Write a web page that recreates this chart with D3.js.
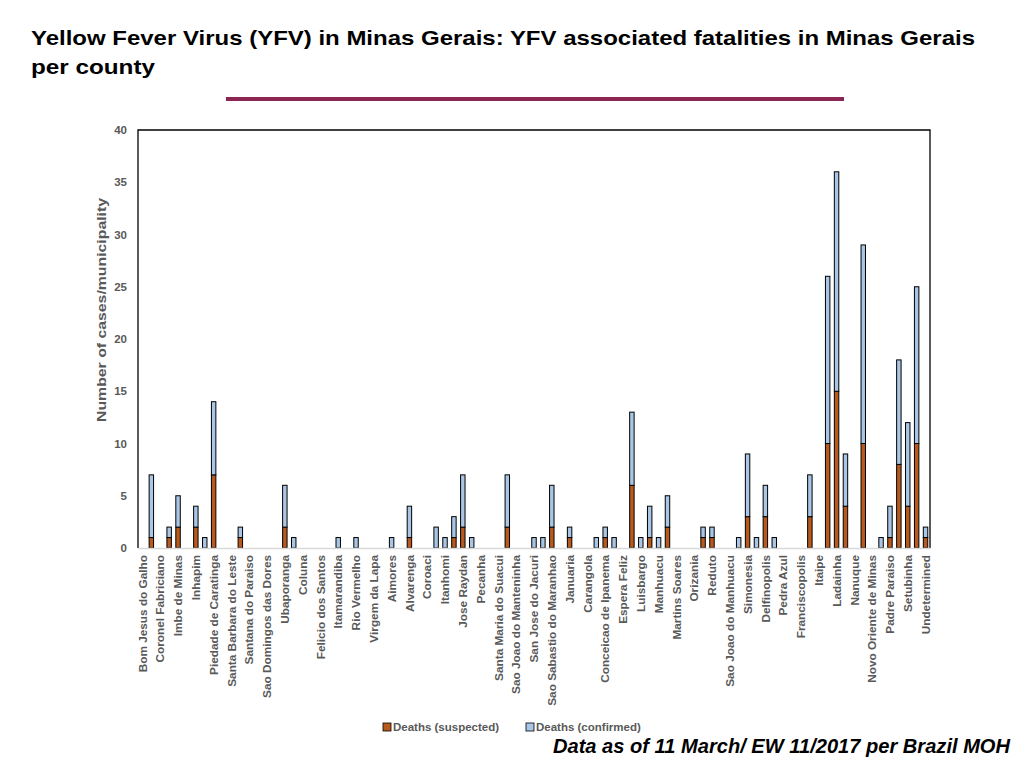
<!DOCTYPE html>
<html>
<head>
<meta http-equiv="Content-Type" content="text/html;charset=utf-8"/>
<title>YFV fatalities in Minas Gerais</title>
<script src="https://d3js.org/d3.v7.min.js"></script>
<style type="text/css">
	body { margin: 0; background: #fff; }
	svg { display: block; font-family: "Liberation Sans", Arial, sans-serif; }
	.title { font-size: 21px; font-weight: bold; fill: #000; }
	.tick text { font-weight: bold; fill: #595959; }
	.legend text { font-size: 11.5px; font-weight: bold; fill: #595959; }
</style>
</head>
<body>
<svg width="1024" height="768"></svg>

<script type="text/javascript">
// municipalities, one per bar; the chart only labels every other one
const categories = [
	"Bom Jesus do Galho", "", "Coronel  Fabriciano", "", "Imbe de Minas", "", "Inhapim", "",
	"Piedade de Caratinga", "", "Santa Barbara do Leste", "", "Santana do Paraiso", "",
	"Sao Domingos das Dores", "", "Ubaporanga", "", "Coluna", "", "Felicio dos Santos", "",
	"Itamarandiba", "", "Rio Vermelho", "", "Virgem da Lapa", "", "Aimores", "", "Alvarenga", "",
	"Coroaci", "", "Itanhomi", "", "Jose Raydan", "", "Pecanha", "", "Santa Maria do Suacui", "",
	"Sao Joao do Manteninha", "", "San Jose do Jacuri", "", "Sao Sabastio do Maranhao", "",
	"Januaria", "", "Carangola", "", "Conceicao de Ipanema", "", "Espera Feliz", "", "Luisbargo", "",
	"Manhuacu", "", "Martins Soares", "", "Orizania", "", "Reduto", "", "Sao Joao do Manhuacu", "",
	"Simonesia", "", "Delfinopolis", "", "Pedra Azul", "", "Franciscopolis", "", "Itaipe", "",
	"Ladainha", "", "Nanuque", "", "Novo Oriente de Minas", "", "Padre Paraiso", "", "Setubinha", "",
	"Undetermined"
];

const suspected = [
	0, 1, 0, 1, 2, 0, 2, 0, 7, 0,
	0, 1, 0, 0, 0, 0, 2, 0, 0, 0,
	0, 0, 0, 0, 0, 0, 0, 0, 0, 0,
	1, 0, 0, 0, 0, 1, 2, 0, 0, 0,
	0, 2, 0, 0, 0, 0, 2, 0, 1, 0,
	0, 0, 1, 0, 0, 6, 0, 1, 0, 2,
	0, 0, 0, 1, 1, 0, 0, 0, 3, 0,
	3, 0, 0, 0, 0, 3, 0, 10, 15, 4,
	0, 10, 0, 0, 1, 8, 4, 10, 1
];

const confirmed = [
	0, 6, 0, 1, 3, 0, 2, 1, 7, 0,
	0, 1, 0, 0, 0, 0, 4, 1, 0, 0,
	0, 0, 1, 0, 1, 0, 0, 0, 1, 0,
	3, 0, 0, 2, 1, 2, 5, 1, 0, 0,
	0, 5, 0, 0, 1, 1, 4, 0, 1, 0,
	0, 1, 1, 1, 0, 7, 1, 3, 1, 3,
	0, 0, 0, 1, 1, 0, 0, 1, 6, 1,
	3, 1, 0, 0, 0, 4, 0, 16, 21, 5,
	0, 19, 0, 1, 3, 10, 8, 15, 1
];

const seriesKeys = ["suspected", "confirmed"];
const seriesNames = ["Deaths (suspected)", "Deaths (confirmed)"];
const seriesColors = ["#b85a1e", "#a9c6e6"];
const yTicks = [0, 5, 10, 15, 20, 25, 30, 35, 40];

const svg = d3.select("svg");
const plot = { left: 138, right: 930, top: 130, bottom: 548 };

// title and rule
svg.append("text").attr("class", "title").attr("x", 31).attr("y", 45)
	.attr("textLength", 944).attr("lengthAdjust", "spacingAndGlyphs")
	.text("Yellow Fever Virus (YFV) in Minas Gerais: YFV associated fatalities in Minas Gerais");
svg.append("text").attr("class", "title").attr("x", 31).attr("y", 74)
	.attr("textLength", 124).attr("lengthAdjust", "spacingAndGlyphs")
	.text("per county");
svg.append("line")
	.attr("x1", 226).attr("x2", 844).attr("y1", 99).attr("y2", 99)
	.attr("stroke", "#8b2553").attr("stroke-width", 4);

const rows = categories.map((c, i) => ({ idx: i, suspected: suspected[i], confirmed: confirmed[i] }));

const x = d3.scaleBand()
	.domain(rows.map(r => r.idx))
	.range([plot.left, plot.right])
	.paddingInner(0.5)
	.paddingOuter(0.25);

const y = d3.scaleLinear()
	.domain([0, 40])
	.range([plot.bottom, plot.top]);

// plot frame (left, top, right in black)
svg.append("path")
	.attr("d", `M${plot.left},${plot.bottom}V${plot.top}H${plot.right}V${plot.bottom}`)
	.attr("fill", "none").attr("stroke", "#000").attr("stroke-width", 1.3);

// bars
const stacked = d3.stack().keys(seriesKeys)(rows);
svg.append("g").selectAll("g")
	.data(stacked)
	.join("g")
		.attr("fill", (d, i) => seriesColors[i])
	.selectAll("rect")
	.data(d => d.filter(s => s[1] > s[0]))
	.join("rect")
		.attr("x", d => x(d.data.idx))
		.attr("width", x.bandwidth())
		.attr("y", d => y(d[1]))
		.attr("height", d => y(d[0]) - y(d[1]))
		.attr("stroke", "#000")
		.attr("stroke-width", 1);

// x axis
const xAxis = svg.append("g")
	.attr("transform", `translate(0,${plot.bottom})`)
	.call(d3.axisBottom(x)
		.tickValues(rows.filter(r => categories[r.idx] !== "").map(r => r.idx))
		.tickSize(0)
		.tickFormat(i => categories[i]));
xAxis.select(".domain").attr("stroke", "#d9d9d9").attr("stroke-width", 1.3);
xAxis.selectAll("text")
	.attr("font-size", 11.8)
	.attr("transform", "rotate(-90)")
	.attr("text-anchor", "end")
	.attr("x", -7)
	.attr("y", 0)
	.attr("dy", "0.36em");

// y axis
const yAxis = svg.append("g")
	.attr("transform", `translate(${plot.left},0)`)
	.call(d3.axisLeft(y).tickValues(yTicks).tickSize(0).tickPadding(11));
yAxis.select(".domain").remove();
yAxis.selectAll("text").attr("font-size", 11.5);

svg.append("text")
	.attr("transform", `translate(106,${310}) rotate(-90)`)
	.attr("text-anchor", "middle")
	.attr("font-size", 12)
	.attr("font-weight", "bold")
	.attr("fill", "#595959")
	.attr("textLength", 224)
	.attr("lengthAdjust", "spacingAndGlyphs")
	.text("Number of cases/municipality");

// legend
const legend = svg.append("g").attr("class", "legend")
	.selectAll("g")
	.data(seriesNames)
	.join("g")
		.attr("transform", (d, i) => `translate(${383 + i * 143},727)`);
legend.append("rect")
	.attr("x", 0).attr("y", -4).attr("width", 8).attr("height", 8)
	.attr("fill", (d, i) => seriesColors[i])
	.attr("stroke", "#000").attr("stroke-width", 0.8);
legend.append("text")
	.attr("x", 10).attr("y", 0).attr("dy", "0.35em")
	.text(d => d);

// source note
svg.append("text")
	.attr("x", 1010).attr("y", 753)
	.attr("text-anchor", "end")
	.attr("font-size", 19.5)
	.attr("font-weight", "bold")
	.attr("font-style", "italic")
	.attr("fill", "#000")
	.attr("textLength", 457)
	.attr("lengthAdjust", "spacingAndGlyphs")
	.text("Data as of 11 March/ EW 11/2017 per Brazil MOH");
</script>
</body>
</html>
